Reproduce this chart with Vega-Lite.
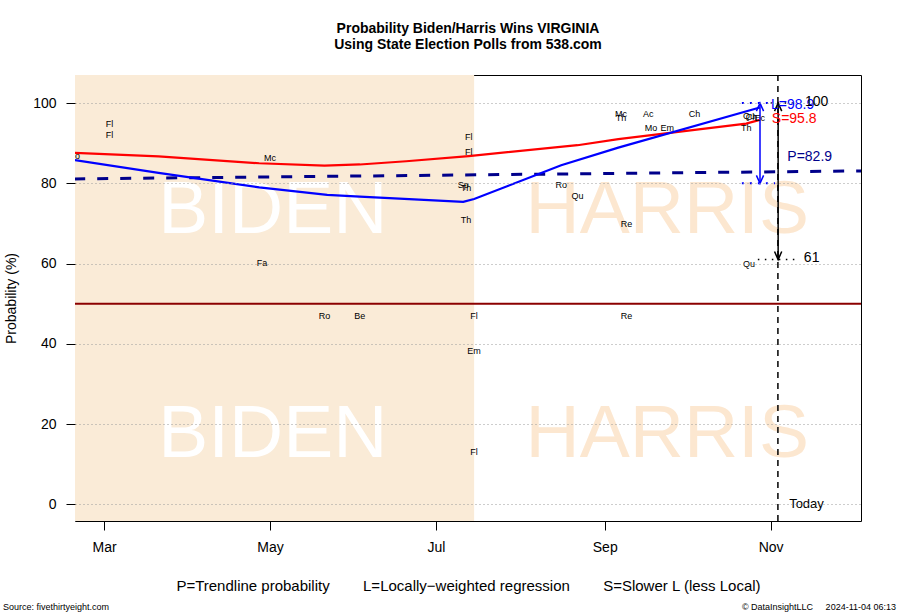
{
  "$schema": "https://vega.github.io/schema/vega-lite/v6.json",
  "width": 786,
  "height": 446,
  "autosize": {"type": "none"},
  "padding": {"left": 75, "top": 75, "right": 39, "bottom": 94},
  "background": "white",
  "config": {
    "font": "Liberation Sans",
    "view": {"stroke": "black", "strokeWidth": 1},
    "text": {"font": "Liberation Sans"}
  },
  "title": {
    "text": ["Probability Biden/Harris Wins VIRGINIA", "Using State Election Polls from 538.com"],
    "font": "Liberation Sans",
    "fontSize": 14,
    "fontWeight": "bold",
    "color": "black",
    "anchor": "middle",
    "frame": "group",
    "lineHeight": 16,
    "offset": 22
  },
  "data": {"values": [{}]},
  "datasets": {
    "polls": [
      {"poll": "Ro", "date": "2024-02-19", "value": 86.8},
      {"poll": "Fl", "date": "2024-03-03", "value": 94.8},
      {"poll": "Fl", "date": "2024-03-03", "value": 92.0},
      {"poll": "Fa", "date": "2024-04-28", "value": 60.2},
      {"poll": "Mc", "date": "2024-05-01", "value": 86.3},
      {"poll": "Ro", "date": "2024-05-21", "value": 47.0},
      {"poll": "Be", "date": "2024-06-03", "value": 47.0},
      {"poll": "Sp", "date": "2024-07-11", "value": 79.6},
      {"poll": "Th", "date": "2024-07-12", "value": 78.9},
      {"poll": "Th", "date": "2024-07-12", "value": 70.9},
      {"poll": "Fl", "date": "2024-07-13", "value": 91.5},
      {"poll": "Fl", "date": "2024-07-13", "value": 87.8},
      {"poll": "Fl", "date": "2024-07-15", "value": 47.0},
      {"poll": "Em", "date": "2024-07-15", "value": 38.3},
      {"poll": "Fl", "date": "2024-07-15", "value": 13.1},
      {"poll": "Ro", "date": "2024-08-16", "value": 79.6},
      {"poll": "Qu", "date": "2024-08-22", "value": 76.8},
      {"poll": "Mc", "date": "2024-09-07", "value": 97.2},
      {"poll": "Th", "date": "2024-09-07", "value": 96.4},
      {"poll": "Re", "date": "2024-09-09", "value": 69.9},
      {"poll": "Re", "date": "2024-09-09", "value": 47.0},
      {"poll": "Ac", "date": "2024-09-17", "value": 97.2},
      {"poll": "Mo", "date": "2024-09-18", "value": 93.9},
      {"poll": "Em", "date": "2024-09-24", "value": 93.9},
      {"poll": "Ch", "date": "2024-10-04", "value": 97.2},
      {"poll": "Th", "date": "2024-10-23", "value": 93.9},
      {"poll": "Qu", "date": "2024-10-24", "value": 59.8},
      {"poll": "Qu", "date": "2024-10-24", "value": 96.8},
      {"poll": "Ch", "date": "2024-10-25", "value": 96.6},
      {"poll": "Ec", "date": "2024-10-28", "value": 96.4}
    ],
    "lowess": [
      {"date": "2024-02-19", "value": 85.8},
      {"date": "2024-03-21", "value": 82.6},
      {"date": "2024-04-27", "value": 79.0},
      {"date": "2024-05-22", "value": 77.1},
      {"date": "2024-06-03", "value": 76.7},
      {"date": "2024-07-11", "value": 75.4},
      {"date": "2024-07-15", "value": 76.1},
      {"date": "2024-08-16", "value": 84.5},
      {"date": "2024-09-06", "value": 88.9},
      {"date": "2024-10-28", "value": 98.9}
    ],
    "slower": [
      {"date": "2024-02-19", "value": 87.6},
      {"date": "2024-03-21", "value": 86.7},
      {"date": "2024-04-27", "value": 85.0},
      {"date": "2024-05-21", "value": 84.4},
      {"date": "2024-06-03", "value": 84.7},
      {"date": "2024-06-20", "value": 85.5},
      {"date": "2024-07-13", "value": 86.8},
      {"date": "2024-08-22", "value": 89.5},
      {"date": "2024-09-06", "value": 91.0},
      {"date": "2024-10-23", "value": 94.9},
      {"date": "2024-10-28", "value": 95.8}
    ],
    "trend": [
      {"date": "2024-02-19", "value": 81.1},
      {"date": "2024-12-05", "value": 83.1}
    ],
    "eras": [
      {"date": "2024-02-18", "end": "2024-07-15"}
    ],
    "names": [
      {"name": "BIDEN", "date": "2024-05-02", "value": 67.5},
      {"name": "BIDEN", "date": "2024-05-02", "value": 11.8},
      {"name": "HARRIS", "date": "2024-09-24", "value": 67.5},
      {"name": "HARRIS", "date": "2024-09-24", "value": 11.8}
    ]
  },
  "layer": [
    {
      "data": {"name": "eras", "format": {"parse": {"date": "date", "end": "date"}}},
      "mark": {"type": "rect", "color": "#FAEBD7", "clip": true},
      "encoding": {
        "x": {
          "field": "date",
          "type": "temporal",
          "scale": {
            "type": "utc",
            "nice": false,
            "domain": [
              {"year": 2024, "month": 2, "date": 19, "hours": 7, "utc": true},
              {"year": 2024, "month": 12, "date": 4, "hours": 5, "utc": true}
            ]
          },
          "axis": {
            "title": "P=Trendline probability\u00a0\u00a0\u00a0\u00a0\u00a0\u00a0\u00a0\u00a0L=Locally\u2212weighted regression\u00a0\u00a0\u00a0\u00a0\u00a0\u00a0\u00a0\u00a0S=Slower L (less Local)",
            "values": [
              {"year": 2024, "month": 3, "date": 1, "utc": true},
              {"year": 2024, "month": 5, "date": 1, "utc": true},
              {"year": 2024, "month": 7, "date": 1, "utc": true},
              {"year": 2024, "month": 9, "date": 1, "utc": true},
              {"year": 2024, "month": 11, "date": 1, "utc": true}
            ],
            "format": "%b",
            "grid": false,
            "domain": false,
            "tickSize": 9,
            "tickColor": "black",
            "labelColor": "black",
            "labelFont": "Liberation Sans",
            "labelFontSize": 14,
            "labelPadding": 10,
            "labelFlush": false,
            "labelOverlap": false,
            "titleFont": "Liberation Sans",
            "titleFontSize": 15,
            "titleFontWeight": "normal",
            "titleColor": "black",
            "titlePadding": 24
          }
        },
        "x2": {"field": "end"},
        "y": {
          "datum": 107.0,
          "type": "quantitative",
          "scale": {"domain": [-4.16, 107.0], "nice": false, "zero": false},
          "axis": {
            "title": "Probability (%)",
            "values": [0, 20, 40, 60, 80, 100],
            "grid": true,
            "gridDash": [1, 3],
            "gridColor": "#9a9a9a",
            "gridWidth": 1,
            "domain": false,
            "tickSize": 9,
            "tickColor": "black",
            "labelColor": "black",
            "labelFont": "Liberation Sans",
            "labelFontSize": 14,
            "labelPadding": 10,
            "titleFont": "Liberation Sans",
            "titleFontSize": 14,
            "titleFontWeight": "normal",
            "titleColor": "black",
            "titlePadding": 14,
            "zindex": 1
          }
        },
        "y2": {"datum": -4.16}
      }
    },
    {
      "data": {"name": "names"},
      "mark": {"type": "text", "fontSize": 75, "align": "center", "baseline": "alphabetic", "font": "Liberation Sans"},
      "encoding": {
        "x": {"field": "date", "type": "temporal"},
        "y": {"field": "value", "type": "quantitative"},
        "text": {"field": "name"},
        "color": {"field": "name", "type": "nominal", "scale": {"domain": ["BIDEN", "HARRIS"], "range": ["#FFFFFF", "#FCE7D0"]}, "legend": null}
      }
    },
    {
      "mark": {"type": "rule", "color": "#8B0000", "strokeWidth": 2},
      "encoding": {"y": {"datum": 50, "type": "quantitative"}}
    },
    {
      "data": {"name": "trend"},
      "mark": {"type": "line", "color": "#00008B", "strokeWidth": 3, "strokeDash": [11, 12], "clip": true},
      "encoding": {
        "x": {"field": "date", "type": "temporal"},
        "y": {"field": "value", "type": "quantitative"}
      }
    },
    {
      "data": {"name": "slower"},
      "mark": {"type": "line", "color": "#FF0000", "strokeWidth": 2.2, "clip": true},
      "encoding": {
        "x": {"field": "date", "type": "temporal"},
        "y": {"field": "value", "type": "quantitative"}
      }
    },
    {
      "data": {"name": "lowess"},
      "mark": {"type": "line", "color": "#0000FF", "strokeWidth": 2.2, "clip": true},
      "encoding": {
        "x": {"field": "date", "type": "temporal"},
        "y": {"field": "value", "type": "quantitative"}
      }
    },
    {
      "mark": {"type": "rule", "color": "black", "strokeWidth": 1.5, "strokeDash": [6, 5]},
      "encoding": {"x": {"datum": {"year": 2024, "month": 11, "date": 3, "hours": 16, "utc": true}, "type": "temporal"}}
    },
    {
      "mark": {"type": "rule", "color": "#0000FF", "strokeWidth": 1.5},
      "encoding": {
        "x": {"datum": {"year": 2024, "month": 10, "date": 28, "hours": 2, "utc": true}, "type": "temporal"},
        "y": {"datum": 80, "type": "quantitative"},
        "y2": {"datum": 100}
      }
    },
    {
      "mark": {"type": "point", "shape": "M -0.45 1 L 0 0 L 0.45 1", "size": 256, "filled": false, "color": "#0000FF", "strokeWidth": 1.5, "opacity": 1},
      "encoding": {
        "x": {"datum": {"year": 2024, "month": 10, "date": 28, "hours": 2, "utc": true}, "type": "temporal"},
        "y": {"datum": 100, "type": "quantitative"}
      }
    },
    {
      "mark": {"type": "point", "shape": "M -0.45 -1 L 0 0 L 0.45 -1", "size": 256, "filled": false, "color": "#0000FF", "strokeWidth": 1.5, "opacity": 1},
      "encoding": {
        "x": {"datum": {"year": 2024, "month": 10, "date": 28, "hours": 2, "utc": true}, "type": "temporal"},
        "y": {"datum": 80, "type": "quantitative"}
      }
    },
    {
      "mark": {"type": "rule", "color": "#0000FF", "strokeWidth": 2, "strokeDash": [2, 6]},
      "encoding": {
        "x": {"datum": {"year": 2024, "month": 10, "date": 21, "hours": 10, "utc": true}, "type": "temporal"},
        "x2": {"datum": {"year": 2024, "month": 10, "date": 31, "hours": 14, "utc": true}},
        "y": {"datum": 100, "type": "quantitative"}
      }
    },
    {
      "mark": {"type": "rule", "color": "#0000FF", "strokeWidth": 2, "strokeDash": [2, 6]},
      "encoding": {
        "x": {"datum": {"year": 2024, "month": 10, "date": 21, "hours": 10, "utc": true}, "type": "temporal"},
        "x2": {"datum": {"year": 2024, "month": 11, "date": 2, "hours": 14, "utc": true}},
        "y": {"datum": 80, "type": "quantitative"}
      }
    },
    {
      "mark": {"type": "rule", "color": "black", "strokeWidth": 1.5},
      "encoding": {
        "x": {"datum": {"year": 2024, "month": 11, "date": 3, "hours": 18, "utc": true}, "type": "temporal"},
        "y": {"datum": 61, "type": "quantitative"},
        "y2": {"datum": 100}
      }
    },
    {
      "mark": {"type": "point", "shape": "M -0.45 1 L 0 0 L 0.45 1", "size": 256, "filled": false, "color": "black", "strokeWidth": 1.5, "opacity": 1},
      "encoding": {
        "x": {"datum": {"year": 2024, "month": 11, "date": 3, "hours": 18, "utc": true}, "type": "temporal"},
        "y": {"datum": 100, "type": "quantitative"}
      }
    },
    {
      "mark": {"type": "point", "shape": "M -0.45 -1 L 0 0 L 0.45 -1", "size": 256, "filled": false, "color": "black", "strokeWidth": 1.5, "opacity": 1},
      "encoding": {
        "x": {"datum": {"year": 2024, "month": 11, "date": 3, "hours": 18, "utc": true}, "type": "temporal"},
        "y": {"datum": 61, "type": "quantitative"}
      }
    },
    {
      "mark": {"type": "rule", "color": "black", "strokeWidth": 1.5, "strokeDash": [1.5, 5.5]},
      "encoding": {
        "x": {"datum": {"year": 2024, "month": 10, "date": 27, "hours": 7, "utc": true}, "type": "temporal"},
        "x2": {"datum": {"year": 2024, "month": 11, "date": 10, "hours": 22, "utc": true}},
        "y": {"datum": 61, "type": "quantitative"}
      }
    },
    {
      "mark": {"type": "rule", "color": "black", "strokeWidth": 1.5, "strokeDash": [1.5, 5.5]},
      "encoding": {
        "x": {"datum": {"year": 2024, "month": 11, "date": 1, "hours": 0, "utc": true}, "type": "temporal"},
        "x2": {"datum": {"year": 2024, "month": 11, "date": 10, "hours": 22, "utc": true}},
        "y": {"datum": 100, "type": "quantitative"}
      }
    },
    {
      "data": {"name": "polls"},
      "mark": {"type": "text", "fontSize": 9, "align": "center", "baseline": "middle", "color": "black", "clip": true},
      "encoding": {
        "x": {"field": "date", "type": "temporal"},
        "y": {"field": "value", "type": "quantitative"},
        "text": {"field": "poll"}
      }
    },
    {
      "mark": {"type": "text", "fontSize": 14, "align": "left", "baseline": "middle", "color": "#0000FF"},
      "encoding": {
        "x": {"datum": {"year": 2024, "month": 11, "date": 1, "hours": 3, "utc": true}, "type": "temporal"},
        "y": {"datum": 99.5, "type": "quantitative"},
        "text": {"value": "L=98.9"}
      }
    },
    {
      "mark": {"type": "text", "fontSize": 14, "align": "left", "baseline": "middle", "color": "#FF0000"},
      "encoding": {
        "x": {"datum": {"year": 2024, "month": 11, "date": 1, "hours": 10, "utc": true}, "type": "temporal"},
        "y": {"datum": 96.0, "type": "quantitative"},
        "text": {"value": "S=95.8"}
      }
    },
    {
      "mark": {"type": "text", "fontSize": 14, "align": "left", "baseline": "middle", "color": "#00008B"},
      "encoding": {
        "x": {"datum": {"year": 2024, "month": 11, "date": 7, "hours": 3, "utc": true}, "type": "temporal"},
        "y": {"datum": 86.5, "type": "quantitative"},
        "text": {"value": "P=82.9"}
      }
    },
    {
      "mark": {"type": "text", "fontSize": 14, "align": "left", "baseline": "middle", "color": "black"},
      "encoding": {
        "x": {"datum": {"year": 2024, "month": 11, "date": 13, "hours": 14, "utc": true}, "type": "temporal"},
        "y": {"datum": 100.3, "type": "quantitative"},
        "text": {"value": "100"}
      }
    },
    {
      "mark": {"type": "text", "fontSize": 14, "align": "left", "baseline": "middle", "color": "black"},
      "encoding": {
        "x": {"datum": {"year": 2024, "month": 11, "date": 13, "hours": 5, "utc": true}, "type": "temporal"},
        "y": {"datum": 61.3, "type": "quantitative"},
        "text": {"value": "61"}
      }
    },
    {
      "mark": {"type": "text", "fontSize": 13, "align": "left", "baseline": "middle", "color": "black"},
      "encoding": {
        "x": {"datum": {"year": 2024, "month": 11, "date": 7, "hours": 19, "utc": true}, "type": "temporal"},
        "y": {"datum": 0.1, "type": "quantitative"},
        "text": {"value": "Today"}
      }
    },
    {
      "mark": {"type": "text", "fontSize": 9, "align": "left", "baseline": "middle", "color": "black"},
      "encoding": {
        "x": {"datum": {"year": 2024, "month": 1, "date": 23, "hours": 19, "utc": true}, "type": "temporal"},
        "y": {"datum": -25.6, "type": "quantitative"},
        "text": {"value": "Source: fivethirtyeight.com"}
      }
    },
    {
      "mark": {"type": "text", "fontSize": 9, "align": "right", "baseline": "middle", "color": "black"},
      "encoding": {
        "x": {"datum": {"year": 2024, "month": 12, "date": 17, "hours": 2, "utc": true}, "type": "temporal"},
        "y": {"datum": -25.6, "type": "quantitative"},
        "text": {"value": "\u00a9 DataInsightLLC\u00a0\u00a0\u00a0\u00a0\u00a02024-11-04 06:13"}
      }
    }
  ]
}
